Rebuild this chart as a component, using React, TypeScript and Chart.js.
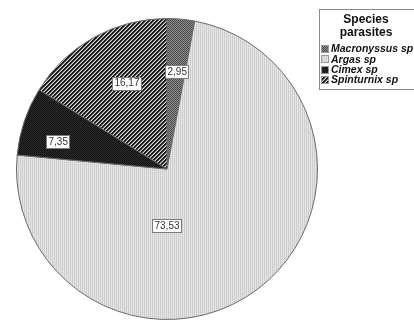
import React, { useEffect, useRef } from "react";
import { Chart, registerables } from "chart.js";

Chart.register(...registerables);

const categories = ["Macronyssus sp", "Argas sp", "Cimex sp", "Spinturnix sp"];
const values = [2.95, 73.53, 7.35, 16.17];
const valueLabels = ["2,95", "73,53", "7,35", "16,17"];
const legendTitle = ["Species", "parasites"];
// label placement: angle (deg, clockwise from top) and fraction of radius
const labelAngles = [6, 180, 284, 335];
const labelRadii = [0.65, 0.375, 0.745, 0.63];

function makePattern(kind: string): CanvasPattern | string {
  const c = document.createElement("canvas");
  const s = 4;
  c.width = s;
  c.height = s;
  const g = c.getContext("2d")!;
  const px = (x: number, y: number, col: string) => {
    g.fillStyle = col;
    g.fillRect(x, y, 1, 1);
  };
  for (let y = 0; y < s; y++) {
    for (let x = 0; x < s; x++) {
      if (kind === "mac") px(x, y, (x + y) % 2 === 0 ? "#4a4a4a" : "#8e8e8e");
      else if (kind === "argas") px(x, y, x % 2 === 0 ? ((y % 2 === 0) ? "#c9c9c9" : "#d4d4d4") : "#e4e4e4");
      else if (kind === "cimex") px(x, y, (x + y) % 2 === 0 ? "#141414" : "#2a2a2a");
      else if (kind === "spin") {
        const d = (x + y) % 4;
        px(x, y, d < 2 ? "#1a1a1a" : d === 2 ? "#7a7a7a" : "#d8d8d8");
      }
    }
  }
  const p = g.createPattern(c, "repeat");
  return p || "#888";
}

const sliceLabelsPlugin = {
  id: "sliceLabels",
  afterDatasetsDraw(chart: any) {
    const ctx = chart.ctx;
    const meta = chart.getDatasetMeta(0);
    ctx.save();
    ctx.font = "10px 'Liberation Sans', Arial, sans-serif";
    ctx.textAlign = "center";
    ctx.textBaseline = "middle";
    meta.data.forEach((arc: any, i: number) => {
      const a = (labelAngles[i] * Math.PI) / 180;
      const r = arc.outerRadius * labelRadii[i];
      const x = arc.x + Math.sin(a) * r;
      const y = arc.y - Math.cos(a) * r;
      const t = valueLabels[i];
      const w = ctx.measureText(t).width + 4;
      const h = 13;
      ctx.fillStyle = "#ffffff";
      ctx.fillRect(Math.round(x - w / 2) + 0.5, Math.round(y - h / 2) + 0.5, Math.round(w), h);
      ctx.strokeStyle = "#7a7a7a";
      ctx.lineWidth = 1;
      ctx.strokeRect(Math.round(x - w / 2) + 0.5, Math.round(y - h / 2) + 0.5, Math.round(w), h);
      ctx.fillStyle = "#333333";
      ctx.fillText(t, x, y + 0.5);
    });
    ctx.restore();
  },
};

const legendPlugin = {
  id: "boxLegend",
  afterDraw(chart: any) {
    const ctx = chart.ctx;
    const ds = chart.data.datasets[0];
    const bx = 319.5;
    const by = 9.5;
    const bh = 80;
    ctx.save();
    ctx.fillStyle = "#ffffff";
    ctx.fillRect(bx, by, 120, bh);
    ctx.strokeStyle = "#8a8a8a";
    ctx.lineWidth = 1;
    ctx.strokeRect(bx, by, 120, bh);
    ctx.fillStyle = "#111111";
    ctx.textAlign = "center";
    ctx.textBaseline = "middle";
    ctx.font = "bold 12px 'Liberation Sans', Arial, sans-serif";
    legendTitle.forEach((t, i) => ctx.fillText(t, 366, 20 + i * 12.5));
    ctx.textAlign = "left";
    ctx.font = "italic bold 10.5px 'Liberation Sans', Arial, sans-serif";
    (chart.data.labels as string[]).forEach((lab: string, i: number) => {
      const y = 49 + i * 10.3;
      const sy = Math.round(y - 4);
      ctx.fillStyle = ds.backgroundColor[i];
      ctx.fillRect(321, sy, 8, 8);
      ctx.strokeStyle = "#9a9a9a";
      ctx.strokeRect(321.5, sy + 0.5, 7, 7);
      ctx.fillStyle = "#111111";
      ctx.fillText(lab, 331, y + 0.5);
    });
    ctx.restore();
  },
};

export default function App() {
  const ref = useRef<HTMLCanvasElement | null>(null);
  useEffect(() => {
    const colors = [makePattern("mac"), makePattern("argas"), makePattern("cimex"), makePattern("spin")];
    const chart = new Chart(ref.current!, {
      type: "pie",
      data: {
        labels: categories,
        datasets: [
          {
            data: values,
            backgroundColor: colors as any,
            borderColor: "#6a6a6a",
            borderWidth: 1,
          },
        ],
      },
      options: {
        animation: false,
        responsive: false,
        events: [],
        layout: { padding: { left: 16, top: 18, right: 96, bottom: 0 } },
        plugins: { legend: { display: false }, tooltip: { enabled: false } },
      },
      plugins: [sliceLabelsPlugin, legendPlugin],
    });
    return () => chart.destroy();
  }, []);
  return (
    <div style={{ position: "absolute", left: 0, top: 0, width: 414, height: 320, background: "#fff", overflow: "hidden" }}>
      <canvas ref={ref} width={414} height={320} style={{ display: "block", width: 414, height: 320 }} />
    </div>
  );
}
